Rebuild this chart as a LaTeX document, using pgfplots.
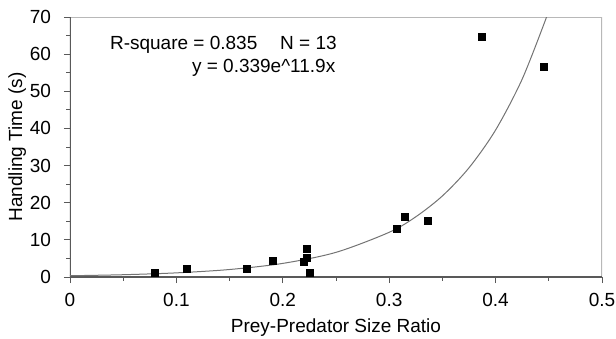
\documentclass[border=0pt]{standalone}
\usepackage{fontspec}
\setmainfont{Liberation Sans}
\usepackage{pgfplots}
\pgfplotsset{compat=1.18}
\definecolor{axgray}{gray}{0.35}
\definecolor{framegray}{gray}{0.72}
\definecolor{curvegray}{gray}{0.45}
\begin{document}
\begin{tikzpicture}
\begin{axis}[
  scale only axis,
  width=266pt, height=130pt,
  at={(0,0)}, anchor=south west,
  xmin=0, xmax=0.5, ymin=0, ymax=70,
  xtick={0,0.1,0.2,0.3,0.4,0.5},
  xticklabels={0,0.1,0.2,0.3,0.4,0.5},
  ytick={0,10,20,30,40,50,60,70},
  minor x tick num=1, minor y tick num=1,
  tick align=outside,
  major tick length=3pt, minor tick length=1.8pt,
  xtick pos=bottom, ytick pos=left,
  tick style={axgray, line width=0.4pt},
  axis line style={draw=none},
  font=\fontsize{9.5}{11}\selectfont,
  /pgf/number format/assume math mode=true,
  xticklabel style={yshift=-1.5pt},
  yticklabel style={xshift=-3pt},
  xlabel={Prey-Predator Size Ratio},
  ylabel={Handling Time (s)},
  xlabel style={yshift=1pt},
  ylabel style={yshift=-5pt},
  clip=true,
]
% frame
\draw[framegray, line width=0.6pt] (axis cs:0,70) -- (axis cs:0.5,70) -- (axis cs:0.5,0);
\draw[axgray, line width=0.6pt] (axis cs:0,70) -- (axis cs:0,0) -- (axis cs:0.5,0);
% fitted curve y = 0.339 e^{11.9x}
\addplot[curvegray, line width=0.5pt, smooth, no marks] coordinates {
 (0,0.339) (0.05,0.615) (0.1,1.114) (0.15,2.020) (0.2,3.663) (0.25,6.641)
 (0.3,12.04) (0.325,16.21) (0.35,21.83) (0.375,29.40) (0.4,39.58)
 (0.425,53.29) (0.4479,70.0)
};
% observations
\addplot[only marks, mark=square*, mark size=1.75pt, black] coordinates {
 (0.080,1.0) (0.110,2.1) (0.166,2.2) (0.191,4.3) (0.2224,7.6) (0.223,5.2)
 (0.220,4.0) (0.225,1.0) (0.307,13.0) (0.315,16.3) (0.336,15.0)
 (0.387,64.7) (0.4455,56.5)
};
\node[anchor=west, font=\fontsize{9.5}{11}\selectfont] at (axis cs:0.031,62.5) {R-square = 0.835\hspace{1.2em}N = 13};
\node[anchor=east, font=\fontsize{9.5}{11}\selectfont] at (axis cs:0.256,56.4) {y = 0.339e\^{}11.9x};
\end{axis}
\pgfresetboundingbox
\path[use as bounding box] (-35pt,-30.5pt) rectangle (273pt,138.5pt);
\end{tikzpicture}
\end{document}
